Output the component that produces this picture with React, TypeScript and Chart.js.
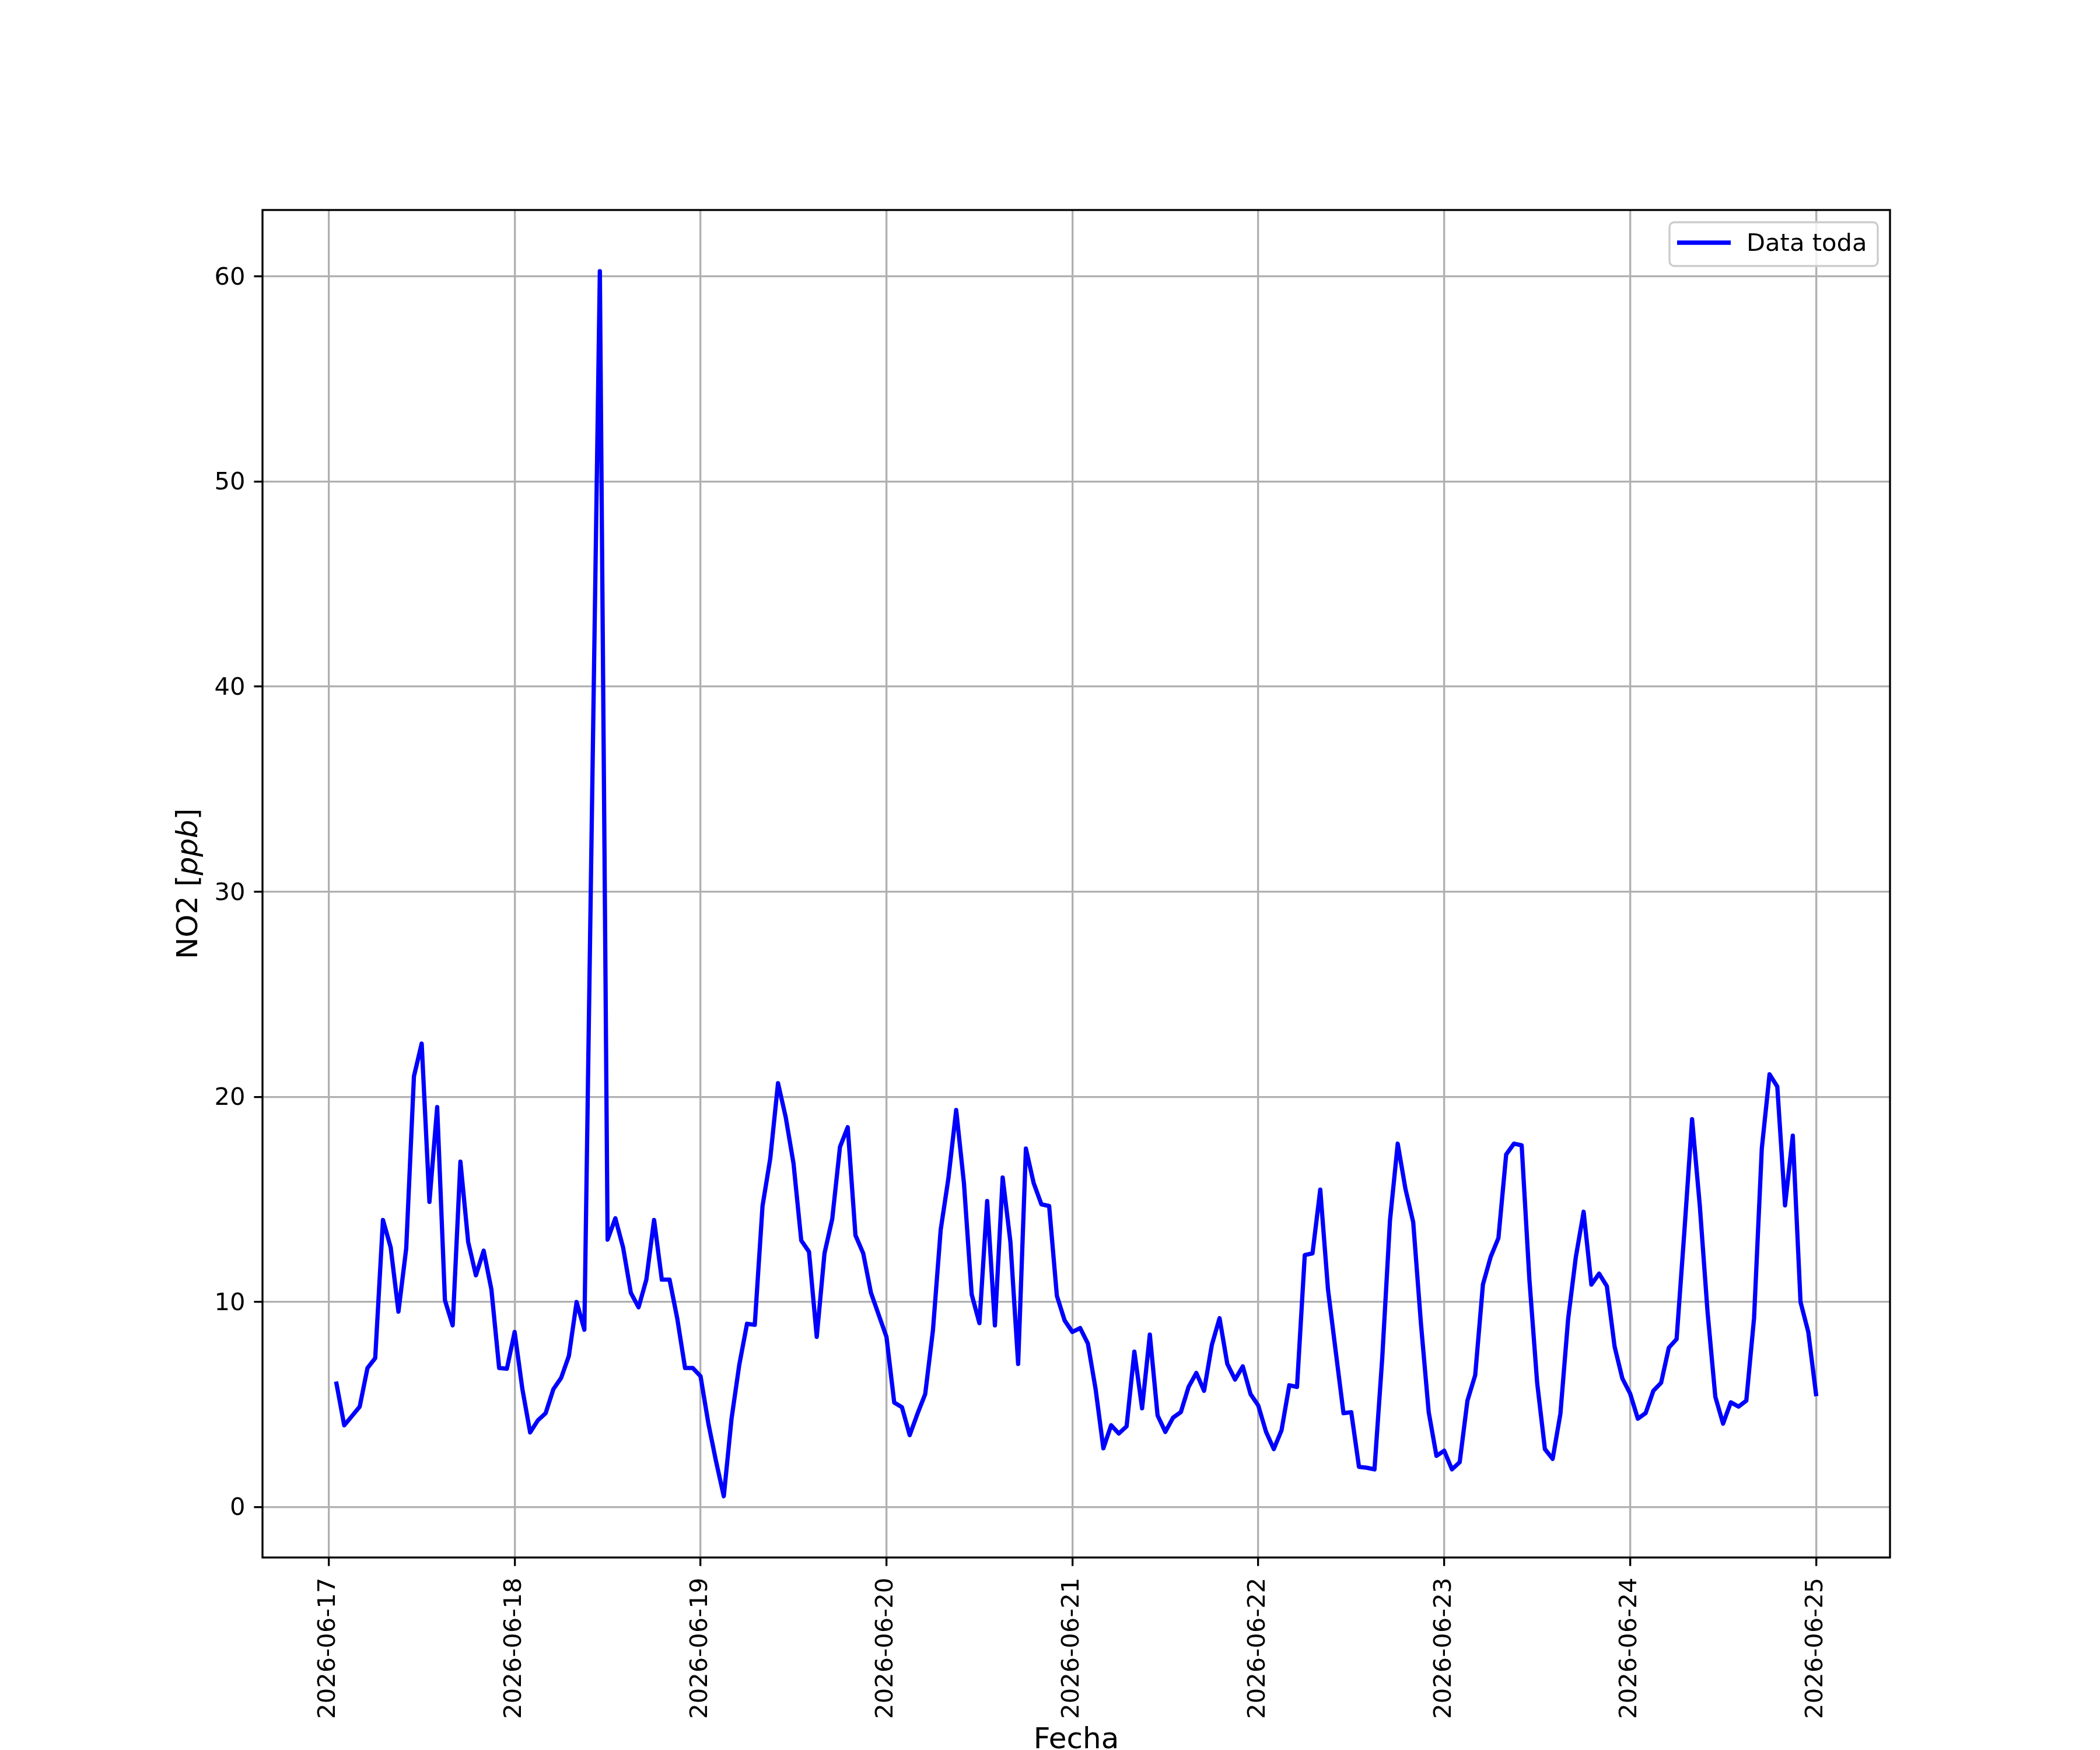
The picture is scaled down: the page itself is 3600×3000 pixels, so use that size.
import React, { useEffect, useRef } from 'react';
import { Chart, registerables } from 'chart.js';

Chart.register(...registerables);

// hourly NO2 readings, one array per day (01:00 .. 24:00)
const no2Jun17 = [6.02, 3.99, 4.44, 4.9, 6.78, 7.26, 14.0, 12.66, 9.53, 12.6, 21.0, 22.6, 14.88, 19.5, 10.09, 8.86, 16.84, 12.93, 11.3, 12.5, 10.61, 6.78, 6.75, 8.54];
const no2Jun18 = [5.75, 3.64, 4.23, 4.58, 5.75, 6.3, 7.37, 10.0, 8.65, 34.5, 60.25, 13.04, 14.08, 12.66, 10.45, 9.74, 11.09, 14.0, 11.09, 11.09, 9.18, 6.78, 6.78, 6.38];
const no2Jun19 = [4.1, 2.23, 0.53, 4.31, 6.94, 8.94, 8.89, 14.68, 17.0, 20.67, 19.0, 16.76, 13.0, 12.45, 8.3, 12.37, 14.05, 17.56, 18.52, 13.25, 12.37, 10.45, 9.37, 8.3];
const no2Jun20 = [5.1, 4.87, 3.51, 4.55, 5.51, 8.62, 13.52, 16.04, 19.36, 15.8, 10.37, 8.97, 14.92, 8.86, 16.07, 12.93, 6.98, 17.48, 15.8, 14.76, 14.68, 10.3, 9.1, 8.54];
const no2Jun21 = [8.73, 7.98, 5.75, 2.87, 3.99, 3.59, 3.94, 7.58, 4.82, 8.41, 4.47, 3.67, 4.36, 4.63, 5.86, 6.54, 5.67, 7.9, 9.21, 6.98, 6.22, 6.86, 5.51, 4.95];
const no2Jun22 = [3.67, 2.83, 3.75, 5.94, 5.86, 12.29, 12.37, 15.48, 10.61, 7.58, 4.58, 4.63, 1.96, 1.92, 1.84, 7.26, 13.97, 17.72, 15.51, 13.89, 8.94, 4.63, 2.5, 2.75];
const no2Jun23 = [1.84, 2.19, 5.19, 6.43, 10.85, 12.2, 13.12, 17.19, 17.72, 17.64, 11.09, 6.06, 2.83, 2.35, 4.55, 9.18, 12.21, 14.4, 10.85, 11.38, 10.77, 7.82, 6.27, 5.54];
const no2Jun24 = [4.31, 4.58, 5.67, 6.06, 7.77, 8.19, 13.41, 18.91, 14.68, 9.5, 5.38, 4.07, 5.11, 4.9, 5.19, 9.21, 17.48, 21.1, 20.5, 14.71, 18.11, 10.0, 8.54, 5.51];

const dateLabels = ['2026-06-17', '2026-06-18', '2026-06-19', '2026-06-20', '2026-06-21', '2026-06-22', '2026-06-23', '2026-06-24', '2026-06-25'];
const yTicks = [0, 10, 20, 30, 40, 50, 60];

const no2 = [no2Jun17, no2Jun18, no2Jun19, no2Jun20, no2Jun21, no2Jun22, no2Jun23, no2Jun24].flat();
// hours since 2026-06-17 00:00
const hours = no2.map((_, i) => i + 1);

const PT = 300 / 72;
const FONT = '"DejaVu Sans"';

// matplotlib style 5% margins
const xPad = (hours[hours.length - 1] - hours[0]) * 0.05;
const yLo = Math.min(...no2);
const yHi = Math.max(...no2);
const yPad = (yHi - yLo) * 0.05;

const decor = {
  id: 'decor',
  afterDraw(chart: any) {
    const { ctx, chartArea: a } = chart;
    ctx.save();

    // spines
    ctx.strokeStyle = '#000';
    ctx.lineWidth = 0.8 * PT;
    ctx.strokeRect(a.left, a.top, a.right - a.left, a.bottom - a.top);

    // legend, upper right
    const bx = a.right - 378, by = a.top + 21, bw = 357, bh = 75;
    ctx.beginPath();
    ctx.roundRect(bx, by, bw, bh, 8);
    ctx.fillStyle = 'rgba(255,255,255,0.8)';
    ctx.fill();
    ctx.strokeStyle = '#cccccc';
    ctx.lineWidth = 0.8 * PT;
    ctx.stroke();
    ctx.beginPath();
    ctx.moveTo(bx + 13, by + 35);
    ctx.lineTo(bx + 105, by + 35);
    ctx.strokeStyle = '#0000ff';
    ctx.lineWidth = 7.3;
    ctx.lineCap = 'butt';
    ctx.stroke();
    ctx.fillStyle = '#000';
    ctx.font = `${10 * PT}px ${FONT}`;
    ctx.textAlign = 'left';
    ctx.textBaseline = 'alphabetic';
    ctx.fillText('Data toda', bx + 132, by + 49);

    // x title
    ctx.font = `${12 * PT}px ${FONT}`;
    ctx.textAlign = 'center';
    ctx.fillText('Fecha', (a.left + a.right) / 2, 2997);

    // y title with italic unit
    const parts = [
      { t: 'NO2 [', f: `${12 * PT}px ${FONT}` },
      { t: 'ppb', f: `italic ${12 * PT}px ${FONT}` },
      { t: ']', f: `${12 * PT}px ${FONT}` },
    ];
    let total = 0;
    const widths = parts.map((p) => {
      ctx.font = p.f;
      const w = ctx.measureText(p.t).width;
      total += w;
      return w;
    });
    ctx.translate(338, (a.top + a.bottom) / 2);
    ctx.rotate(-Math.PI / 2);
    ctx.textAlign = 'left';
    let x = -total / 2;
    parts.forEach((p, i) => {
      ctx.font = p.f;
      ctx.fillText(p.t, x, 0);
      x += widths[i];
    });

    ctx.restore();
  },
};

const App: React.FC = () => {
  const chartRef = useRef<HTMLCanvasElement>(null);

  useEffect(() => {
    if (!chartRef.current) return;
    const tickFont = { family: FONT, size: 10 * PT };
    const grid = {
      color: '#b0b0b0',
      lineWidth: 0.8 * PT,
      drawTicks: true,
      tickLength: 3.5 * PT,
      tickColor: '#000',
      tickWidth: 0.8 * PT,
    };

    const chart = new Chart(chartRef.current, {
      type: 'line',
      data: {
        datasets: [
          {
            label: 'Data toda',
            data: hours.map((h, i) => ({ x: h, y: no2[i] })),
            borderColor: '#0000ff',
            borderWidth: 7.3,
            pointRadius: 0,
            tension: 0,
            fill: false,
            borderJoinStyle: 'round',
            borderCapStyle: 'square',
          },
        ],
      },
      options: {
        animation: false,
        responsive: false,
        maintainAspectRatio: false,
        devicePixelRatio: 1,
        layout: { padding: { left: 0, right: 360, top: 360, bottom: 0 } },
        plugins: { legend: { display: false }, tooltip: { enabled: false } },
        scales: {
          x: {
            type: 'linear',
            min: hours[0] - xPad,
            max: hours[hours.length - 1] + xPad,
            afterFit: (s: any) => {
              s.height = 330;
            },
            afterBuildTicks: (s: any) => {
              s.ticks = dateLabels.map((_, i) => ({ value: i * 24 }));
            },
            ticks: {
              autoSkip: false,
              minRotation: 90,
              maxRotation: 90,
              padding: 20,
              color: '#000',
              font: tickFont,
              callback: (v: any) => dateLabels[Math.round(Number(v) / 24)],
            },
            grid,
            border: { display: false },
          },
          y: {
            type: 'linear',
            min: yLo - yPad,
            max: yHi + yPad,
            afterFit: (s: any) => {
              s.width = 450;
            },
            afterBuildTicks: (s: any) => {
              s.ticks = yTicks.map((v) => ({ value: v }));
            },
            ticks: {
              padding: 15,
              labelOffset: 3,
              color: '#000',
              font: tickFont,
              callback: (v: any) => String(v),
            },
            grid,
            border: { display: false },
          },
        },
      },
      plugins: [decor],
    });

    return () => {
      chart.destroy();
    };
  }, []);

  return (
    <div style={{ position: 'absolute', left: 0, top: 0, width: '3600px', height: '3000px', background: '#fff' }}>
      <canvas ref={chartRef} width={3600} height={3000} style={{ width: '3600px', height: '3000px' }} />
    </div>
  );
};

export default App;
